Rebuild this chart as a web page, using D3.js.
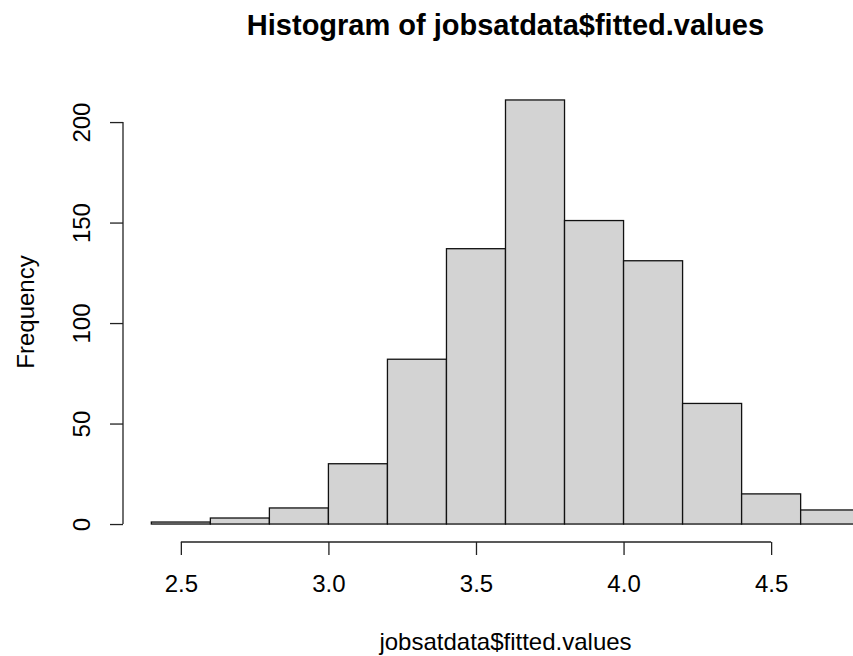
<!DOCTYPE html>
<html>
<head>
<meta charset="utf-8">
<script src="https://cdn.jsdelivr.net/npm/d3@7"></script>
<style>
  body { margin: 0; background: #fff; }
  text { font-family: "Liberation Sans", Arial, Helvetica, sans-serif; fill: #000; }
</style>
</head>
<body>
<svg></svg>
<script>
// histogram breaks and counts
var breaks = [2.4, 2.6, 2.8, 3.0, 3.2, 3.4, 3.6, 3.8, 4.0, 4.2, 4.4, 4.6, 4.8]
var counts = [1, 3, 8, 30, 82, 137, 211, 151, 131, 60, 15, 7]
var xTicks = [2.5, 3.0, 3.5, 4.0, 4.5]
var yTicks = [0, 50, 100, 150, 200]
var title = "Histogram of jobsatdata$fitted.values"
var xLabel = "jobsatdata$fitted.values"
var yLabel = "Frequency"

var width = 853
var height = 656

// plot region (R style, axes are 4% outside the data range)
var plotLeft = 123, plotRight = 888, plotTop = 83, plotBottom = 541

var bins = counts.map(function (c, i) {
  return { x0: breaks[i], x1: breaks[i + 1], count: c }
})

var xMin = breaks[0], xMax = breaks[breaks.length - 1]
var xPad = (xMax - xMin) * 0.04
var yMax = d3.max(counts)
var yPad = yMax * 0.04

var x = d3.scaleLinear()
  .domain([xMin - xPad, xMax + xPad])
  .range([plotLeft, plotRight])

var y = d3.scaleLinear()
  .domain([-yPad, yMax + yPad])
  .range([plotBottom, plotTop])

var svg = d3.select('svg')
  .attr('width', width)
  .attr('height', height)

// bars
svg.append('g')
  .attr('class', 'bars')
  .selectAll('rect')
  .data(bins)
  .enter().append('rect')
    .attr('x', function (d) { return x(d.x0) })
    .attr('y', function (d) { return y(d.count) })
    .attr('width', function (d) { return x(d.x1) - x(d.x0) })
    .attr('height', function (d) { return y(0) - y(d.count) })
    .attr('fill', '#d3d3d3')
    .attr('stroke', '#111')
    .attr('stroke-width', 1.3)

// x axis
var xAxis = d3.axisBottom(x)
  .tickValues(xTicks)
  .tickFormat(d3.format('.1f'))
  .tickSize(13)
  .tickPadding(20)

var gx = svg.append('g')
  .attr('transform', 'translate(0,' + (plotBottom + 1) + ')')
  .call(xAxis)
gx.select('.domain').remove()
gx.append('line')
  .attr('x1', x(xTicks[0]))
  .attr('x2', x(xTicks[xTicks.length - 1]))
  .attr('stroke', '#222')
  .attr('stroke-width', 1.3)
gx.selectAll('.tick line').attr('stroke', '#222').attr('stroke-width', 1.3)
gx.selectAll('.tick text')
  .style('font-size', '24px')
  .style('font-family', '"Liberation Sans", Arial, sans-serif')
  .attr('fill', '#000')

// y axis
var yAxis = d3.axisLeft(y)
  .tickValues(yTicks)
  .tickSize(13)

var gy = svg.append('g')
  .attr('transform', 'translate(' + plotLeft + ',0)')
  .call(yAxis)
gy.select('.domain').remove()
gy.append('line')
  .attr('y1', y(yTicks[0]))
  .attr('y2', y(yTicks[yTicks.length - 1]))
  .attr('stroke', '#222')
  .attr('stroke-width', 1.3)
gy.selectAll('.tick line').attr('stroke', '#222').attr('stroke-width', 1.3)
gy.selectAll('.tick text')
  .style('font-size', '24px')
  .style('font-family', '"Liberation Sans", Arial, sans-serif')
  .attr('fill', '#000')
  .attr('x', null)
  .attr('dy', null)
  .attr('text-anchor', 'middle')
  .attr('transform', 'translate(-33,0) rotate(-90)')

// title and axis labels
var midX = (plotLeft + plotRight) / 2
var midY = (plotTop + plotBottom) / 2

svg.append('text')
  .attr('x', midX)
  .attr('y', 35)
  .attr('text-anchor', 'middle')
  .attr('font-size', 29)
  .attr('font-weight', 'bold')
  .text(title)

svg.append('text')
  .attr('x', midX)
  .attr('y', 650)
  .attr('text-anchor', 'middle')
  .attr('font-size', 24)
  .text(xLabel)

svg.append('text')
  .attr('transform', 'translate(34,' + midY + ') rotate(-90)')
  .attr('text-anchor', 'middle')
  .attr('font-size', 24)
  .text(yLabel)
</script>
</body>
</html>
